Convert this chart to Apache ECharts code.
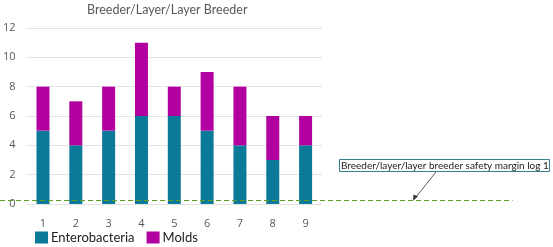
<!DOCTYPE html>
<html><head><meta charset="utf-8">
<script src="https://cdn.jsdelivr.net/npm/echarts@6/dist/echarts.min.js"></script>
<style>html,body{margin:0;padding:0;background:#fff}#c{width:553px;height:247px}</style>
</head><body><div id="c"></div>
<script>
var categories = ['1','2','3','4','5','6','7','8','9'];
var enterobacteria = [5,4,5,6,6,5,4,3,4];
var molds = [3,3,3,5,2,4,4,3,2];
var safetyMargin = 0.3;
var yTicks = {min:0, max:12, interval:2};
var titleText = 'Breeder/Layer/Layer Breeder';
var noteText = 'Breeder/layer/layer breeder safety margin log 1';

var font = 'Open Sans';
var chart = echarts.init(document.getElementById('c'));
chart.setOption({
  animation:false,
  title:{text:titleText,left:82,top:-2,textStyle:{fontFamily:'Lato',fontSize:12.5,fontWeight:'normal',color:'#595959'}},
  legend:{left:30,top:226,itemWidth:13,itemHeight:12,itemGap:12,icon:'rect',
    textStyle:{fontFamily:'Lato',fontSize:13,color:'#222',padding:[0,0,0,-2]}},
  grid:{left:25,right:231,top:28,bottom:43},
  xAxis:{type:'category',data:categories,axisLine:{show:false},axisTick:{show:false},
    axisLabel:{fontFamily:font,fontSize:11,color:'#595959',margin:14}},
  yAxis:{type:'value',min:yTicks.min,max:yTicks.max,interval:yTicks.interval,
    axisLabel:{fontFamily:font,fontSize:11,color:'#595959',margin:11,align:'right'},
    splitLine:{lineStyle:{color:'#e3e3e3'}}},
  series:[
    {name:'Enterobacteria',type:'bar',stack:'s',data:enterobacteria,barWidth:13,itemStyle:{color:'#0b7a99'}},
    {name:'Molds',type:'bar',stack:'s',data:molds,barWidth:13,itemStyle:{color:'#b1009f'}}
  ]
});
var y = Math.round(chart.convertToPixel({yAxisIndex:0}, safetyMargin)) + 0.5;
var xEnd = chart.convertToPixel({xAxisIndex:0}, '9') + 207;
chart.setOption({graphic:[
  {type:'line',shape:{x1:0,y1:y,x2:xEnd,y2:y},style:{stroke:'#5f9e1e',lineWidth:1,lineDash:[5,3]},z:100},
  {type:'rect',shape:{x:339.5,y:159.5,width:210,height:12},style:{fill:'#fff',stroke:'#3a7f8f',lineWidth:1},z:100},
  {type:'text',x:341,y:166,style:{text:noteText,fontFamily:'Lato',fontSize:10,fill:'#222',verticalAlign:'middle'},z:101},
  {type:'line',shape:{x1:436,y1:172,x2:414,y2:y-1},style:{stroke:'#333',lineWidth:0.8},z:100},
  {type:'polygon',shape:{points:[[413,y],[413.5,y-6],[418,y-4]]},style:{fill:'#333'},z:100}
]});
</script></body></html>
